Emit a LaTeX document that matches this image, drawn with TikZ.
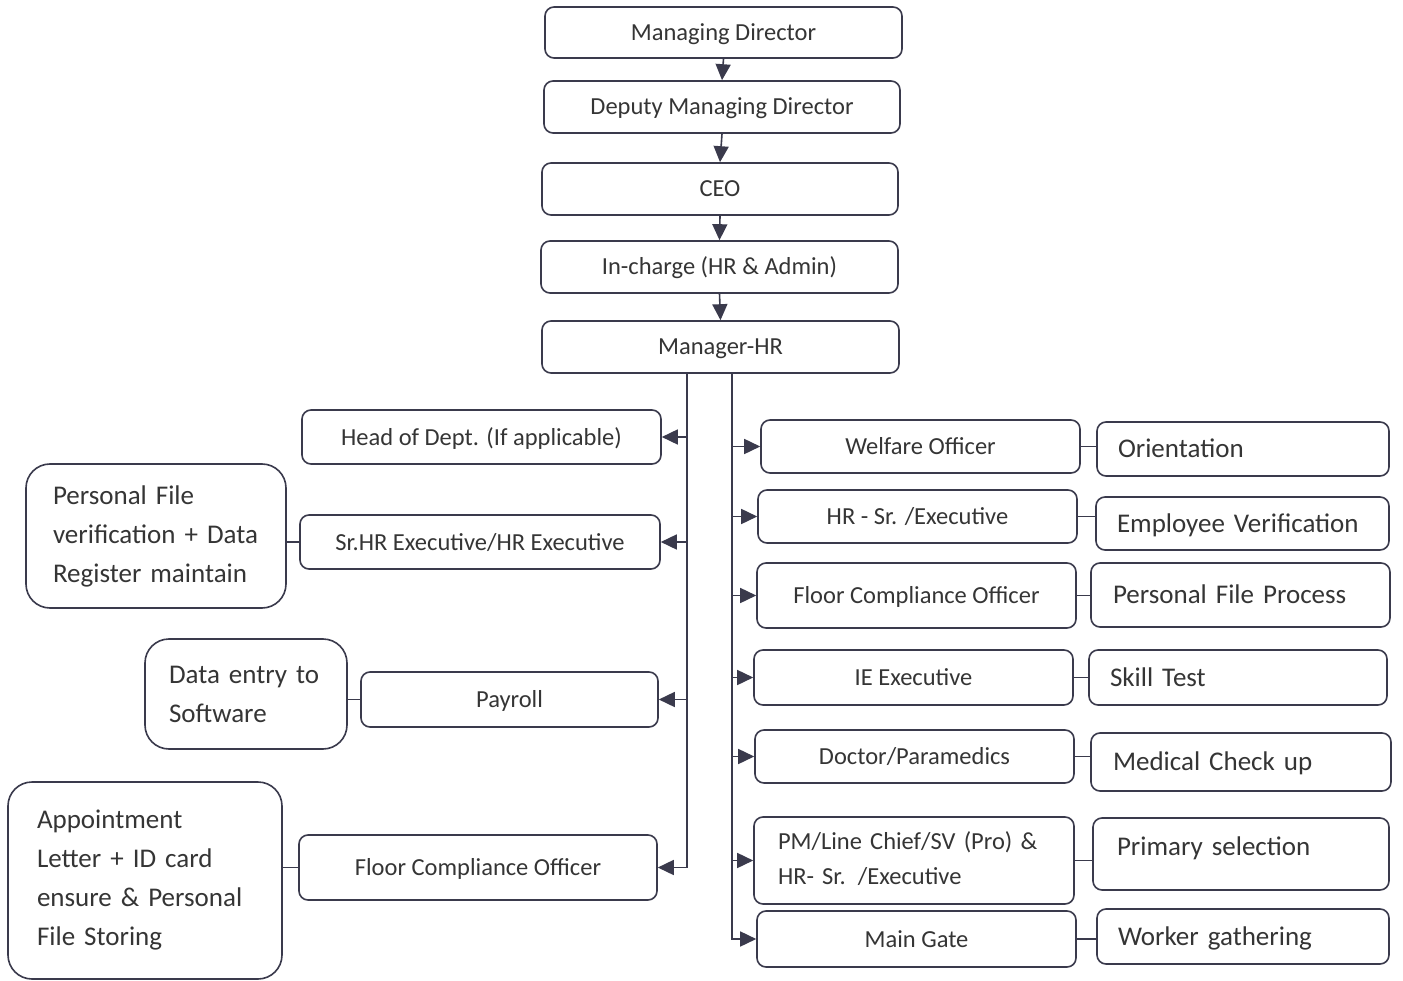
\documentclass[tikz,border=0pt]{standalone}
\usepackage{fontspec}
\setmainfont{Carlito}
\usetikzlibrary{arrows.meta}
\definecolor{lc}{HTML}{3A3A4C}
\definecolor{tc}{HTML}{353535}
\begin{document}
\begin{tikzpicture}[x=1pt,y=-1pt,
 box/.style={draw=lc, line width=1.6pt, rounded corners=9pt, text=tc, inner sep=0pt, font=\fontsize{24.5}{36}\selectfont, align=center},
 one/.style={text height=16pt, text depth=0pt},
 sone/.style={text height=17.5pt, text depth=0pt},
 sbox/.style={box, font=\fontsize{27}{39}\selectfont, align=left},
 big/.style={sbox, rounded corners=24pt},
 arr/.style={draw=lc, line width=1.6pt, -{Triangle[length=16pt,width=15pt]}},
 ln/.style={draw=lc, line width=1.6pt}]
\useasboundingbox[fill=white] (0,0) rectangle (1403,981);
% top chain
\node[box, one, minimum width=357pt, minimum height=51pt] (md) at (723.5,32.5) {Managing Director};
\node[box, one, minimum width=356pt, minimum height=52pt] (dmd) at (722,107) {Deputy Managing Director};
\node[box, one, minimum width=356pt, minimum height=52pt] (ceo) at (720,189) {CEO};
\node[box, one, minimum width=357pt, minimum height=52pt] (inc) at (719.5,267) {In-charge (HR \& Admin)};
\node[box, one, minimum width=357pt, minimum height=52pt] (mhr) at (720.5,347) {Manager-HR};
\draw[arr] (md.south) -- (dmd.north);
\draw[arr] (dmd.south) -- (ceo.north);
\draw[arr] (ceo.south) -- (inc.north);
\draw[arr] (inc.south) -- (mhr.north);
% left middle
\node[box, one, minimum width=359pt, minimum height=54pt] (hod) at (481.5,437) {Head of Dept. (If applicable)};
\node[box, one, minimum width=360pt, minimum height=54pt] (srhr) at (480,542) {Sr.HR Executive/HR Executive};
\node[box, one, minimum width=297pt, minimum height=55pt] (pay) at (509.5,699.5) {Payroll};
\node[box, one, minimum width=358pt, minimum height=65pt] (fcol) at (478,867.5) {Floor Compliance Officer};
% far left
\node[big, text width=206pt, inner xsep=27pt, minimum height=144pt] (pf) at (156,536) {\mbox{Personal File}\\\mbox{verification + Data}\\\mbox{Register maintain}};
\node[big, text width=154pt, inner xsep=24pt, minimum height=110pt] (de) at (246,694) {\mbox{Data entry to}\\\mbox{Software}};
\node[big, text width=216pt, inner xsep=29pt, minimum height=197pt] (ap) at (145,880.5) {\mbox{Appointment}\\\mbox{Letter + ID card}\\\mbox{ensure \& Personal}\\\mbox{File Storing}};
% right middle
\node[box, one, minimum width=319pt, minimum height=53pt] (wo) at (920.5,446.5) {Welfare Officer};
\node[box, one, minimum width=319pt, minimum height=53pt] (hrs) at (917.5,516.5) {HR - Sr. /Executive};
\node[box, one, minimum width=319pt, minimum height=65pt] (fcor) at (916.5,595.5) {Floor Compliance Officer};
\node[box, one, minimum width=319pt, minimum height=55pt] (ie) at (913.5,677.5) {IE Executive};
\node[box, one, minimum width=319pt, minimum height=53pt] (doc) at (914.5,756.5) {Doctor/Paramedics};
\node[box, align=left, text width=272pt, inner xsep=24pt, minimum height=87pt] (pm) at (914,860.5) {\mbox{PM/Line Chief/SV (Pro) \&}\\[-1pt]\mbox{HR- Sr. /Executive}\vphantom{g}};
\node[box, one, minimum width=319pt, minimum height=56pt] (mg) at (916.5,939) {Main Gate};
% far right
\node[sbox, sone, text width=250pt, inner xsep=21pt, minimum height=54pt] (ori) at (1243,449) {Orientation};
\node[sbox, sone, text width=251pt, inner xsep=21pt, minimum height=53pt] (ev) at (1242.5,523.5) {Employee Verification};
\node[sbox, sone, text width=255pt, inner xsep=22pt, minimum height=64pt] (pfp) at (1240.5,595) {Personal File Process};
\node[sbox, sone, text width=256pt, inner xsep=21pt, minimum height=55pt] (st) at (1238,677.5) {Skill Test};
\node[sbox, sone, text width=256pt, inner xsep=22pt, minimum height=58pt] (mc) at (1241,762) {Medical Check up};
\node[sbox, sone, text depth=14pt, text width=248pt, inner xsep=24pt, minimum height=72pt] (ps) at (1241,854) {Primary selection};
\node[sbox, sone, text width=250pt, inner xsep=21pt, minimum height=55pt] (wg) at (1243,936.5) {Worker gathering};
% buses
\coordinate (lbus) at (687,0);
\coordinate (rbus) at (732,0);
\draw[arr] (mhr.south -| lbus) |- (fcol.east);
\draw[arr] (hod.east -| lbus) -- (hod.east);
\draw[arr] (srhr.east -| lbus) -- (srhr.east);
\draw[arr] (pay.east -| lbus) -- (pay.east);
\draw[arr] (mhr.south -| rbus) |- (mg.west);
\draw[arr] (wo.west -| rbus) -- (wo.west);
\draw[arr] (hrs.west -| rbus) -- (hrs.west);
\draw[arr] (fcor.west -| rbus) -- (fcor.west);
\draw[arr] (ie.west -| rbus) -- (ie.west);
\draw[arr] (doc.west -| rbus) -- (doc.west);
\draw[arr] (pm.west -| rbus) -- (pm.west);
% side links
\draw[ln] (srhr.west) -- (srhr.west -| pf.east);
\draw[ln] (pay.west) -- (pay.west -| de.east);
\draw[ln] (fcol.west) -- (fcol.west -| ap.east);
\draw[ln] (wo.east) -- (wo.east -| ori.west);
\draw[ln] (hrs.east) -- (hrs.east -| ev.west);
\draw[ln] (fcor.east) -- (fcor.east -| pfp.west);
\draw[ln] (ie.east) -- (ie.east -| st.west);
\draw[ln] (doc.east) -- (doc.east -| mc.west);
\draw[ln] (pm.east) -- (pm.east -| ps.west);
\draw[ln] (mg.east) -- (mg.east -| wg.west);
\end{tikzpicture}
\end{document}
